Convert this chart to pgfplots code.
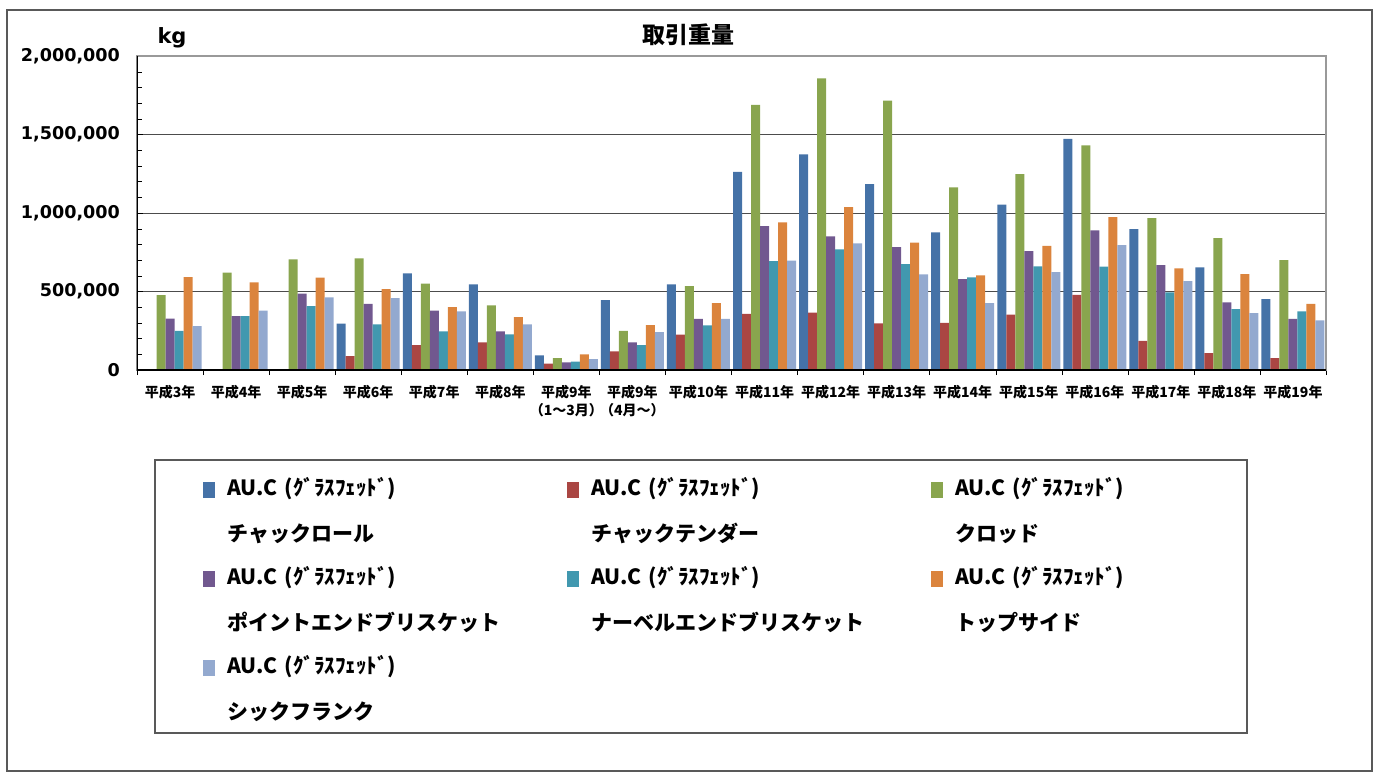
\documentclass[border=0pt]{standalone}
\usepackage{fontspec}
\setmainfont{Noto Sans CJK JP}
\newfontfamily\dejavu{DejaVu Sans}
\usepackage{pgfplots}
\usepackage{pgfplotstable}
\pgfplotsset{compat=1.18}
\definecolor{c1}{HTML}{4572A7}
\definecolor{c2}{HTML}{AA4643}
\definecolor{c3}{HTML}{89A54E}
\definecolor{c4}{HTML}{71588F}
\definecolor{c5}{HTML}{4198AF}
\definecolor{c6}{HTML}{DB843D}
\definecolor{c7}{HTML}{93A9CF}
\pgfplotstableread{
x a b c d e f g
0 nan nan 477000 327000 250000 592000 280000
1 nan nan 621000 344000 344000 558000 378000
2 nan nan 704000 486000 407000 588000 462000
3 295000 89000 711000 422000 291000 515000 458000
4 615000 159000 551000 378000 246000 401000 373000
5 545000 176000 411000 246000 227000 337000 291000
6 93000 40000 76000 49000 53000 100000 70000
7 445000 119000 250000 176000 159000 286000 242000
8 545000 225000 535000 325000 284000 426000 325000
9 1262000 358000 1688000 916000 694000 940000 696000
10 1374000 365000 1858000 851000 768000 1037000 806000
11 1184000 297000 1716000 783000 675000 812000 609000
12 876000 301000 1164000 579000 590000 602000 426000
13 1054000 352000 1247000 757000 660000 791000 624000
14 1472000 479000 1430000 889000 658000 974000 795000
15 897000 185000 967000 668000 494000 647000 566000
16 653000 108000 840000 431000 388000 611000 363000
17 452000 76000 700000 325000 373000 422000 316000
}\datatable
\begin{document}
\begin{tikzpicture}
\useasboundingbox (-68.5pt,-201pt) rectangle (621.5pt,185pt);
\draw[gray!70!black, line width=0.6pt] (-65pt,180pt) rectangle (617.5pt,-200.5pt);
\draw[gray!70!black, line width=0.6pt] (9pt,-45pt) rectangle (555pt,-181.5pt);
\node[font=\bfseries\fontsize{11.5}{13}\selectfont] at (275.5pt,167.5pt) {取引重量};
\node[font=\dejavu\bfseries\fontsize{10.5}{12}\selectfont] at (17.5pt,166pt) {kg};
\begin{axis}[
  at={(0pt,0pt)}, anchor=south west,
  scale only axis, width=594.5pt, height=157pt,
  ybar=0pt, bar width=4.5pt,
  xmin=-0.5, xmax=17.5, ymin=0, ymax=2000000,
  xtick={0,...,17},
  xticklabels={平成3年,平成4年,平成5年,平成6年,平成7年,平成8年,{平成9年\\（1～3月）},{平成9年\\（4月～）},平成10年,平成11年,平成12年,平成13年,平成14年,平成15年,平成16年,平成17年,平成18年,平成19年},
  xticklabel style={align=center, font=\bfseries\fontsize{7}{9}\selectfont, yshift=-4pt},
  tick pos=left,
  major x tick style={draw=none},
  minor xtick={-0.5,0.5,...,17.5},
  minor x tick style={black, yshift=-2.5pt},
  ytick={0,500000,1000000,1500000,2000000},
  minor y tick num=4,
  y tick style={black},
  tick align=inside,
  major tick length=3pt, minor tick length=2.5pt,
  scaled y ticks=false,
  yticklabel style={font=\dejavu\bfseries\fontsize{8.8}{10}\selectfont, xshift=-5pt,
    /pgf/number format/fixed, /pgf/number format/1000 sep={,}, /pgf/number format/assume math mode=true},
  ymajorgrids, major grid style={gray!60!black, line width=0.5pt},
  axis line style={gray!80, line width=0.6pt},
  legend style={draw=none, fill=none, legend columns=3, at={(0.0555,-0.34)}, anchor=north west,
    inner sep=0pt, row sep=34pt, column sep=0pt,
    font=\bfseries\fontsize{10.5}{23}\selectfont,
    nodes={text width=170pt, align=left, inner xsep=0pt, inner ysep=0pt}},
  legend cell align=left,
  legend image code/.code={\fill[#1] (0pt,-5pt) rectangle (6pt,3pt); \path (12pt,0pt);},
]
\addplot[fill=c1, draw=none] table[x=x, y=a] {\datatable};
\addplot[fill=c2, draw=none] table[x=x, y=b] {\datatable};
\addplot[fill=c3, draw=none] table[x=x, y=c] {\datatable};
\addplot[fill=c4, draw=none] table[x=x, y=d] {\datatable};
\addplot[fill=c5, draw=none] table[x=x, y=e] {\datatable};
\addplot[fill=c6, draw=none] table[x=x, y=f] {\datatable};
\addplot[fill=c7, draw=none] table[x=x, y=g] {\datatable};
\addlegendentry{{AU.C (ｸﾞﾗｽﾌｪｯﾄﾞ)\\チャックロール}}
\addlegendentry{{AU.C (ｸﾞﾗｽﾌｪｯﾄﾞ)\\チャックテンダー}}
\addlegendentry{{AU.C (ｸﾞﾗｽﾌｪｯﾄﾞ)\\クロッド}}
\addlegendentry{{AU.C (ｸﾞﾗｽﾌｪｯﾄﾞ)\\ポイントエンドブリスケット}}
\addlegendentry{{AU.C (ｸﾞﾗｽﾌｪｯﾄﾞ)\\ナーベルエンドブリスケット}}
\addlegendentry{{AU.C (ｸﾞﾗｽﾌｪｯﾄﾞ)\\トップサイド}}
\addlegendentry{{AU.C (ｸﾞﾗｽﾌｪｯﾄﾞ)\\シックフランク}}
\draw[black, line width=0.8pt] (rel axis cs:0,1) -- (rel axis cs:0,0) -- (rel axis cs:1,0);
\end{axis}
\end{tikzpicture}
\end{document}
